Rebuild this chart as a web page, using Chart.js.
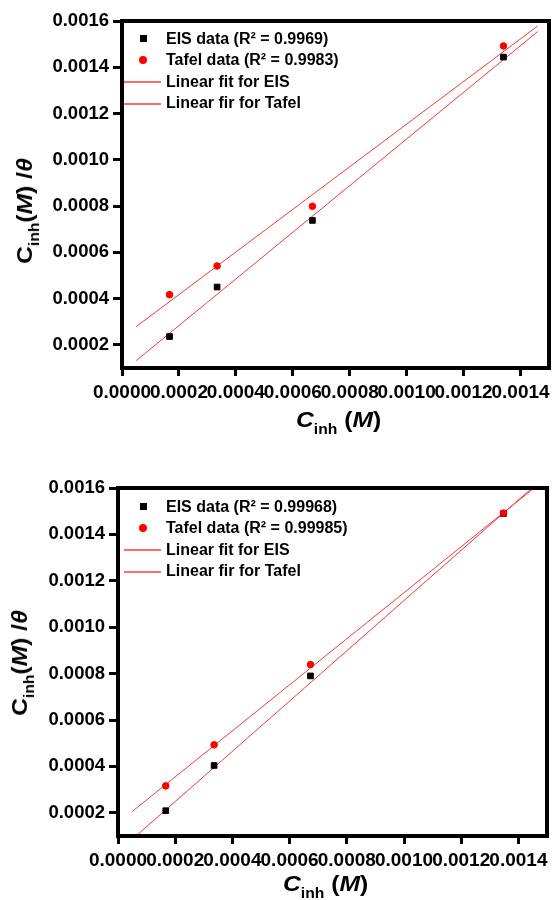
<!DOCTYPE html>
<html>
<head>
<meta charset="utf-8">
<title>Cinh / theta vs Cinh</title>
<script src="https://cdn.jsdelivr.net/npm/chart.js@4.4.1/dist/chart.umd.min.js"></script>
<style>
  body { margin: 0; background: #fff; }
  #page {
    position: relative; width: 554px; height: 900px; overflow: hidden;
    font-family: 'Liberation Sans', Arial, sans-serif; font-weight: bold; color: #000;
  }
  .panel { position: absolute; left: 0; width: 554px; height: 450px; }
  .panel canvas { display: block; }
  .axis-title {
    position: absolute; font-size: 22px; line-height: 22px; white-space: nowrap;
  }
  .axis-title sub { font-size: 14px; vertical-align: baseline; position: relative; top: 7px; }
  .x-title { transform-origin: 0 0; transform: scaleX(1.12); }
  .y-title { transform: translate(-50%, -50%) rotate(-90deg) scaleX(1.12); }
  .legend { position: absolute; left: 120px; font-size: 16px; }
  .legend-row { display: flex; align-items: center; height: 21.5px; white-space: nowrap; }
  .legend-row .slot { width: 46px; height: 21.5px; position: relative; flex: none; }
  .legend-row .slot span { position: absolute; }
  .mark-rect { left: 20px; top: 7px; width: 7px; height: 7px; background: #000; }
  .mark-circle { left: 19px; top: 6px; width: 8px; height: 8px; border-radius: 50%; background: #ff0000; }
  .mark-line { left: 4px; top: 10px; width: 37px; height: 2px; background: #ff6a6a; }
</style>
</head>
<body>
<div id="page">
  <div class="panel" style="top:0"><canvas id="chartTop" width="554" height="450"></canvas></div>
  <div class="panel" style="top:450px"><canvas id="chartBottom" width="554" height="450"></canvas></div>

  <div class="legend" id="legendTop" style="top:28px"></div>
  <div class="legend" id="legendBottom" style="top:496px"></div>

  <div class="axis-title y-title" style="left:26px; top:211px">C<sub>inh</sub>(<i>M</i>) /<i>&theta;</i></div>
  <div class="axis-title x-title" style="left:296px; top:409px"><i>C</i><sub>inh</sub> (<i>M</i>)</div>
  <div class="axis-title y-title" style="left:21px; top:663px">C<sub>inh</sub>(<i>M</i>) /<i>&theta;</i></div>
  <div class="axis-title x-title" style="left:283px; top:873px"><i>C</i><sub>inh</sub> (<i>M</i>)</div>
</div>

<script>
// inhibitor concentration (M) and Cinh/theta for each method
const concTop = [0.000167, 0.000334, 0.000669, 0.00134];
const eisTop = [0.000236, 0.00045, 0.000738, 0.001444];
const tafelTop = [0.000417, 0.000541, 0.000799, 0.001492];
const fitXTop = [0.00005, 0.00146];
const eisFitTop = [0.000132, 0.001554];
const tafelFitTop = [0.000279, 0.001578];
const labelsTop = ['EIS data (R\u00b2 = 0.9969)', 'Tafel data (R\u00b2 = 0.9983)', 'Linear fit for EIS', 'Linear fir for Tafel'];

const concBottom = [0.000167, 0.000336, 0.000673, 0.001348];
const eisBottom = [0.000209, 0.000404, 0.00079, 0.00149];
const tafelBottom = [0.000316, 0.000493, 0.000839, 0.001492];
const fitXBottom = [0.00005, 0.00147];
const eisFitBottom = [0.000086, 0.001624];
const tafelFitBottom = [0.000206, 0.001615];
const labelsBottom = ['EIS data (R\u00b2 = 0.99968)', 'Tafel data (R\u00b2 = 0.99985)', 'Linear fit for EIS', 'Linear fir for Tafel'];

const xMin = 0, xMax = 0.0015;
const yMin = 0.0001, yMax = 0.0016;
const tickStep = 0.0002;

Chart.defaults.font.family = "'Liberation Sans', Arial, sans-serif";
Chart.defaults.color = '#000';

const FIT_COLOR = '#f03a3a';

function toPoints(xs, ys) {
    return xs.map((x, i) => ({ x: x, y: ys[i] }));
}

function buildDatasets(conc, eis, tafel, fitX, eisFit, tafelFit, labels) {
    return [{
        label: labels[0],
        data: toPoints(conc, eis),
        pointStyle: 'rect',
        pointRadius: 4,
        pointBackgroundColor: '#000',
        pointBorderColor: '#000',
        pointBorderWidth: 1,
        order: 1
    }, {
        label: labels[1],
        data: toPoints(conc, tafel),
        pointStyle: 'circle',
        pointRadius: 3.3,
        pointBackgroundColor: '#ff0000',
        pointBorderColor: '#ff0000',
        pointBorderWidth: 1,
        order: 0
    }, {
        label: labels[2],
        data: toPoints(fitX, eisFit),
        showLine: true,
        pointRadius: 0,
        borderColor: FIT_COLOR,
        borderWidth: 1,
        order: 2
    }, {
        label: labels[3],
        data: toPoints(fitX, tafelFit),
        showLine: true,
        pointRadius: 0,
        borderColor: FIT_COLOR,
        borderWidth: 1,
        order: 2
    }];
}

// closed black box around the plotting area
const framePlugin = {
    id: 'frame',
    afterDatasetsDraw(chart) {
        const ctx = chart.ctx;
        const a = chart.chartArea;
        ctx.save();
        ctx.lineWidth = 4;
        ctx.strokeStyle = '#000';
        ctx.strokeRect(a.left, a.top, a.right - a.left, a.bottom - a.top);
        ctx.restore();
    }
};

function makeChart(canvasId, datasets, area) {
    const ctx = document.getElementById(canvasId).getContext('2d');
    return new Chart(ctx, {
        type: 'scatter',
        data: { datasets: datasets },
        plugins: [framePlugin],
        options: {
            responsive: false,
            animation: false,
            clip: 0,
            layout: {
                padding: { left: 0, top: area.top, right: 554 - area.right, bottom: 0 }
            },
            plugins: {
                legend: { display: false },
                tooltip: { enabled: false }
            },
            scales: {
                x: {
                    type: 'linear',
                    min: xMin,
                    max: xMax,
                    afterFit: function(scale) {
                        scale.height = 450 - area.bottom;
                        scale.paddingLeft = 0;
                        scale.paddingRight = 0;
                    },
                    border: { display: false },
                    grid: {
                        drawOnChartArea: false,
                        tickLength: 8,
                        tickWidth: 3,
                        tickColor: '#000'
                    },
                    ticks: {
                        stepSize: tickStep,
                        includeBounds: false,
                        autoSkip: false,
                        maxRotation: 0,
                        minRotation: 0,
                        padding: 5,
                        color: '#000',
                        font: { size: 19, weight: 'bold' },
                        callback: function(value) {
                            return value.toFixed(4);
                        }
                    }
                },
                y: {
                    type: 'linear',
                    min: yMin,
                    max: yMax,
                    afterFit: function(scale) {
                        scale.width = area.left;
                        scale.paddingTop = 0;
                        scale.paddingBottom = 0;
                    },
                    border: { display: false },
                    grid: {
                        drawOnChartArea: false,
                        tickLength: 9,
                        tickWidth: 3,
                        tickColor: '#000'
                    },
                    ticks: {
                        stepSize: tickStep,
                        includeBounds: false,
                        padding: 4,
                        color: '#000',
                        font: { size: 18.5, weight: 'bold' },
                        callback: function(value) {
                            return value.toFixed(4);
                        }
                    }
                }
            }
        }
    });
}

// legend rows built from the chart's own datasets
function buildLegend(chart, el) {
    chart.data.datasets.forEach(function(ds) {
        const row = document.createElement('div');
        row.className = 'legend-row';
        const slot = document.createElement('span');
        slot.className = 'slot';
        const mark = document.createElement('span');
        mark.className = ds.showLine ? 'mark-line' : 'mark-' + ds.pointStyle;
        slot.appendChild(mark);
        const text = document.createElement('span');
        text.textContent = ds.label;
        row.appendChild(slot);
        row.appendChild(text);
        el.appendChild(row);
    });
}

const topChart = makeChart('chartTop',
    buildDatasets(concTop, eisTop, tafelTop, fitXTop, eisFitTop, tafelFitTop, labelsTop),
    { left: 122, top: 21, right: 550, bottom: 368 });

const bottomChart = makeChart('chartBottom',
    buildDatasets(concBottom, eisBottom, tafelBottom, fitXBottom, eisFitBottom, tafelFitBottom, labelsBottom),
    { left: 118, top: 38, right: 547, bottom: 386 });

buildLegend(topChart, document.getElementById('legendTop'));
buildLegend(bottomChart, document.getElementById('legendBottom'));
</script>
</body>
</html>
